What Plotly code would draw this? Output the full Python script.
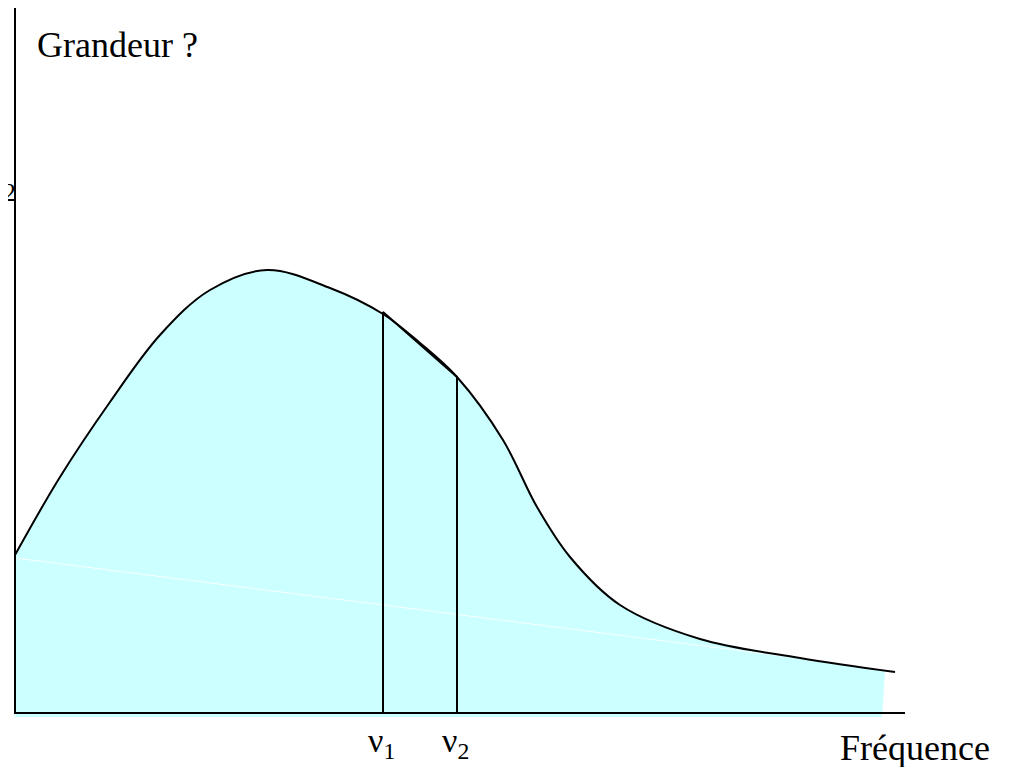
import plotly.graph_objects as go

# Curve (frequency, magnitude) in arbitrary units
freq = [0, 4.5, 9.5, 14.5, 19.5, 25.2, 31.5, 36.8, 40.5, 44.2, 48.8, 52.2, 55.5, 60.5,
        68.5, 78.5, 88.0]
mag = [15.8, 23.6, 31.1, 37.8, 42.3, 44.3, 42.5, 39.9, 37.0, 33.6, 27.3, 20.6, 15.6, 10.8,
       7.4, 5.5, 4.1]
nu = [36.8, 44.2]
nu_top = [40.1, 33.6]
nu_labels = ["ν<sub>1</sub>", "ν<sub>2</sub>"]
fill_end_x = [87.0, 86.7]     # right edge of fill (top, bottom)
fill_end_y = [4.2, -0.4]

CURVE = "#000000"
FILL = "#CCFFFF"
SERIF = "Liberation Serif"
SMOOTH = 1.0

fig = go.Figure()

# baseline for fill
fig.add_trace(go.Scatter(x=[0, fill_end_x[1]], y=[fill_end_y[1], fill_end_y[1]], mode="lines",
                         line=dict(width=0, color=FILL), hoverinfo="skip"))
# filled area under the curve
fig.add_trace(go.Scatter(x=freq[:-1] + [fill_end_x[0]], y=mag[:-1] + [fill_end_y[0]],
                         mode="lines", fill="tonexty", fillcolor=FILL,
                         line=dict(width=0, color=FILL, shape="spline", smoothing=SMOOTH),
                         hoverinfo="skip"))

# faint white artifact line in fill
fig.add_trace(go.Scatter(x=[0, 77.5], y=[15.5, 5.6], mode="lines",
                         line=dict(color="rgba(255,255,255,0.85)", width=1), hoverinfo="skip"))

# curve
fig.add_trace(go.Scatter(x=freq, y=mag, mode="lines",
                         line=dict(color=CURVE, width=2, shape="spline", smoothing=SMOOTH)))

# nu1-nu2 polygon (verticals and chord)
fig.add_trace(go.Scatter(x=[nu[0], nu[0], nu[1], nu[1]], y=[0, nu_top[0], nu_top[1], 0],
                         mode="lines", line=dict(color=CURVE, width=2)))

# axes
fig.add_trace(go.Scatter(x=[0, 0, 89], y=[72, 0, 0], mode="lines",
                         line=dict(color=CURVE, width=2)))

ann = []
ann.append(dict(x=2.0, y=66.8, text="Grandeur ?", showarrow=False, xanchor="left", yanchor="middle",
                font=dict(family=SERIF, size=36, color="black")))
ann.append(dict(x=82.3, y=-3.5, text="Fréquence", showarrow=False, xanchor="left", yanchor="middle",
                font=dict(family=SERIF, size=36, color="black")))
for xv, lab in zip(nu, nu_labels):
    ann.append(dict(x=xv - 0.2, y=-3.0, text=lab, showarrow=False, xanchor="center", yanchor="middle",
                    font=dict(family=SERIF, size=34, color="black")))
ann.append(dict(x=0.3, y=52.1, text="2", showarrow=False, xanchor="right", yanchor="middle",
                font=dict(family=SERIF, size=26, color="black")))

fig.update_layout(
    width=1012, height=767, margin=dict(l=0, r=0, t=0, b=0),
    paper_bgcolor="white", plot_bgcolor="white", showlegend=False,
    xaxis=dict(range=[-0.7, 100.5], visible=False),
    yaxis=dict(range=[-6.2, 70.5], visible=False),
    annotations=ann,
)

fig.write_html("out.html")
